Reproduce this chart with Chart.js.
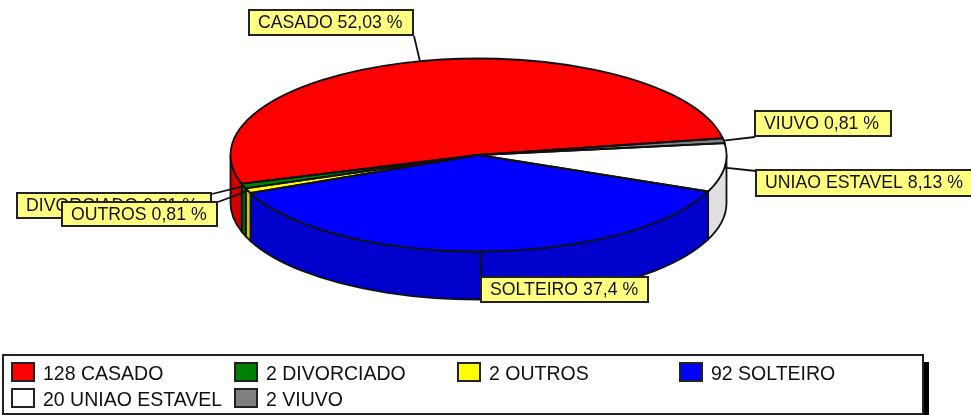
<!DOCTYPE html>
<html>
<head>
<meta charset="utf-8">
<title>Estado civil</title>
<script src="https://cdn.jsdelivr.net/npm/chart.js@4"></script>
<style>
    html, body { margin: 0; padding: 0; background: #fff; }
    canvas { display: block; }
</style>
</head>
<body>
<canvas id="pizzaChart" width="971" height="415"></canvas>
<script>
// Dados, na ordem da legenda
const categorias = ['CASADO', 'DIVORCIADO', 'OUTROS', 'SOLTEIRO', 'UNIAO ESTAVEL', 'VIUVO'];
const valores = [128, 2, 2, 92, 20, 2];
const percentuais = ['52,03', '0,81', '0,81', '37,4', '8,13', '0,81'];

const cores = ['#ff0000', '#008000', '#ffff00', '#0000ff', '#ffffff', '#808080'];
const coresLateral = ['#d00000', '#006400', '#cccc00', '#0000cc', '#e0e0e0', '#666666'];

// Caixas dos rotulos [x, y, largura, altura]
const caixasRotulo = [[249, 10, 164, 25], [17, 193, 194, 25], [62, 202, 155, 24], [481, 277, 167, 25], [756, 170, 216, 26], [755, 111, 136, 25]];
// Ponto onde a linha do rotulo encontra a caixa
const pontasLinha = [[414, 36], [212, 194], [218, 202], [481, 277], [756, 171], [755, 137]];
// Posicao da legenda [x do quadrado, y do quadrado]
const posLegenda = [[12, 363], [235, 363], [458, 363], [680, 363], [12, 389], [235, 389]];

const ACHATAMENTO = 96.5 / 248;
const ALTURA = 48;
const FONTE_ROTULO = '17.7px "Liberation Sans"';
const FONTE_LEGENDA = '19.5px "Liberation Sans"';
const LINHA = 1.8;

// Indice na ordem da legenda (o pie do Chart.js gira no sentido horario, aqui e o contrario)
function indiceOriginal(i) {
    return categorias.length - 1 - i;
}

// Lateral do pie e achatamento do circulo
const pizza3d = {
    id: 'pizza3d',
    beforeDatasetsDraw(chart) {
        const ctx = chart.ctx;
        const arcos = chart.getDatasetMeta(0).data;
        const cx = arcos[0].x, cy = arcos[0].y, r = arcos[0].outerRadius;
        const ry = r * ACHATAMENTO;

        ctx.save();
        arcos.forEach((arco, i) => {
            // so a parte da frente aparece, de 0 a 180 graus na tela
            [0, Math.PI * 2, -Math.PI * 2].forEach(volta => {
                const ini = Math.max(arco.startAngle + volta, 0);
                const fim = Math.min(arco.endAngle + volta, Math.PI);
                if (fim <= ini) return;
                ctx.beginPath();
                ctx.ellipse(cx, cy, r, ry, 0, ini, fim);
                ctx.ellipse(cx, cy + ALTURA, r, ry, 0, fim, ini, true);
                ctx.closePath();
                ctx.fillStyle = coresLateral[indiceOriginal(i)];
                ctx.fill();
                ctx.strokeStyle = '#111';
                ctx.lineWidth = LINHA;
                ctx.stroke();
            });
        });
        ctx.restore();

        ctx.save();
        ctx.translate(0, cy);
        ctx.scale(1, ACHATAMENTO);
        ctx.translate(0, -cy);
    },
    afterDatasetsDraw(chart) {
        const ctx = chart.ctx;
        ctx.restore();

        const arcos = chart.getDatasetMeta(0).data;
        const cx = arcos[0].x, cy = arcos[0].y, r = arcos[0].outerRadius;
        const ry = r * ACHATAMENTO;

        ctx.save();
        ctx.strokeStyle = '#111';
        ctx.lineWidth = LINHA;
        arcos.forEach(arco => {
            ctx.beginPath();
            ctx.moveTo(cx, cy);
            ctx.ellipse(cx, cy, r, ry, 0, arco.startAngle, arco.endAngle);
            ctx.closePath();
            ctx.stroke();
        });
        ctx.restore();
    }
};

// Linhas e caixas amarelas + legenda de baixo
const rotulos = {
    id: 'rotulos',
    afterDraw(chart) {
        const ctx = chart.ctx;
        const arcos = chart.getDatasetMeta(0).data;
        const cx = arcos[0].x, cy = arcos[0].y, r = arcos[0].outerRadius;
        const ry = r * ACHATAMENTO;

        ctx.save();
        ctx.textBaseline = 'alphabetic';

        arcos.forEach((arco, i) => {
            const k = indiceOriginal(i);
            const meio = (arco.startAngle + arco.endAngle) / 2;
            ctx.beginPath();
            ctx.moveTo(cx + r * Math.cos(meio), cy + ry * Math.sin(meio));
            ctx.lineTo(pontasLinha[k][0], pontasLinha[k][1]);
            ctx.strokeStyle = '#111';
            ctx.lineWidth = LINHA;
            ctx.stroke();
        });

        ctx.font = FONTE_ROTULO;
        categorias.forEach((nome, k) => {
            const [x, y, w, h] = caixasRotulo[k];
            ctx.fillStyle = '#ffff80';
            ctx.fillRect(x, y, w, h);
            ctx.strokeStyle = '#222';
            ctx.lineWidth = 2;
            ctx.strokeRect(x, y, w, h);
            ctx.fillStyle = '#111';
            ctx.fillText(nome + ' ' + percentuais[k] + ' %', x + 9, y + 18);
        });

        // sombra e caixa da legenda
        ctx.fillStyle = '#000';
        ctx.fillRect(923, 362, 6, 53);
        ctx.fillStyle = '#fff';
        ctx.fillRect(3, 355, 920, 59);
        ctx.strokeStyle = '#222';
        ctx.lineWidth = 2;
        ctx.strokeRect(3, 355, 920, 59);

        ctx.font = FONTE_LEGENDA;
        categorias.forEach((nome, k) => {
            const [x, y] = posLegenda[k];
            ctx.fillStyle = cores[k];
            ctx.fillRect(x, y, 22, 18);
            ctx.strokeStyle = '#222';
            ctx.lineWidth = 2;
            ctx.strokeRect(x, y, 22, 18);
            ctx.fillStyle = '#111';
            ctx.fillText(valores[k] + ' ' + nome, x + 31, y + 16.5);
        });
        ctx.restore();
    }
};

const ctx = document.getElementById('pizzaChart').getContext('2d');
const pizzaChart = new Chart(ctx, {
    type: 'pie',
    data: {
        labels: categorias.slice().reverse(),
        datasets: [{
            data: valores.slice().reverse(),
            backgroundColor: cores.slice().reverse(),
            borderWidth: 0,
            clip: false
        }]
    },
    options: {
        responsive: false,
        animation: false,
        radius: 248,
        rotation: 80,
        layout: { padding: { left: 0, right: 14, top: 0, bottom: 105 } },
        plugins: {
            legend: { display: false },
            tooltip: { enabled: false }
        }
    },
    plugins: [pizza3d, rotulos]
});
</script>
</body>
</html>
